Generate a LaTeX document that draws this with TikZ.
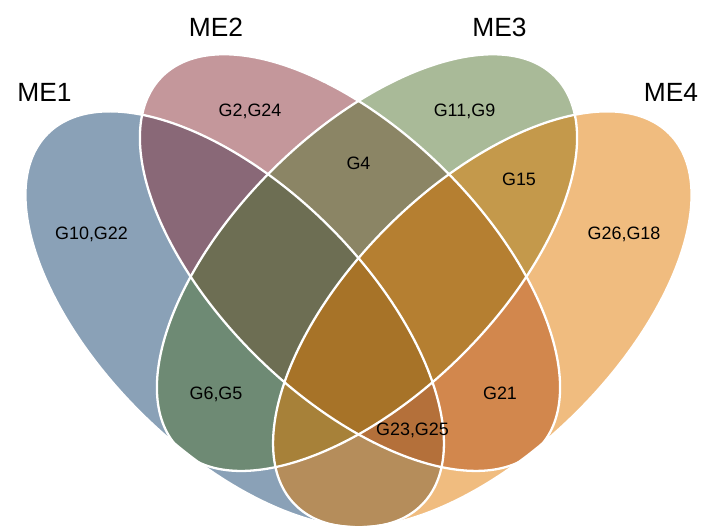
\documentclass[tikz,border=0pt]{standalone}
\usepackage{fontspec}
\setmainfont{Liberation Sans}

\definecolor{meA}{RGB}{22,68,112}
\definecolor{meB}{RGB}{137,47,56}
\definecolor{meC}{RGB}{83,117,49}
\definecolor{meD}{RGB}{225,121,0}

\tikzset{
 setfill/.style={fill=#1, fill opacity=0.5},
 setline/.style={draw=white, line width=1.3pt},
 setname/.style={anchor=base, font=\fontsize{15}{18}\selectfont},
 genes/.style={anchor=base, font=\fontsize{10.2}{12}\selectfont},
}

\begin{document}
\begin{tikzpicture}
 \useasboundingbox (0,0) rectangle (14.04,10.52);
 \clip (0,0) rectangle (14.04,10.52);
 \coordinate (O1) at (4.694,4.134);
 \coordinate (O2) at (7.0,5.268);
 \coordinate (O3) at (7.34,5.268);
 \coordinate (O4) at (9.646,4.134);
 % fills, one set after another
 \fill[setfill=meA, rotate around={-44.7:(O1)}] (O1) ellipse [x radius=5.27, y radius=2.65];
 \fill[setfill=meB, rotate around={-44.6:(O2)}] (O2) ellipse [x radius=5.29, y radius=2.65];
 \fill[setfill=meC, rotate around={44.6:(O3)}] (O3) ellipse [x radius=5.29, y radius=2.65];
 \fill[setfill=meD, rotate around={44.7:(O4)}] (O4) ellipse [x radius=5.27, y radius=2.65];
 % white outlines on top
 \foreach \c/\r/\a in {O1/-44.7/5.27, O2/-44.6/5.29, O3/44.6/5.29, O4/44.7/5.27}
  \draw[setline, rotate around={\r:(\c)}] (\c) ellipse [x radius=\a, y radius=2.65];

 \node[setname] (me1) at (0.89,8.48) {ME1};
 \node[setname] (me2) at (4.32,9.786) {ME2};
 \node[setname] (me3) at (9.99,9.786) {ME3};
 \node[setname] (me4) at (13.42,8.48) {ME4};

 \node[genes] (only1) at (1.83,5.72) {G10,G22};
 \node[genes] (only2) at (5.0,8.18) {G2,G24};
 \node[genes] (both23) at (7.17,7.12) {G4};
 \node[genes] (only3) at (9.29,8.18) {G11,G9};
 \node[genes] (both34) at (10.38,6.8) {G15};
 \node[genes] (only4) at (12.48,5.72) {G26,G18};
 \node[genes] (both13) at (4.32,2.52) {G6,G5};
 \node[genes] (both24) at (10.0,2.52) {G21};
 \node[genes] (tri124) at (8.25,1.8) {G23,G25};
\end{tikzpicture}
\end{document}
